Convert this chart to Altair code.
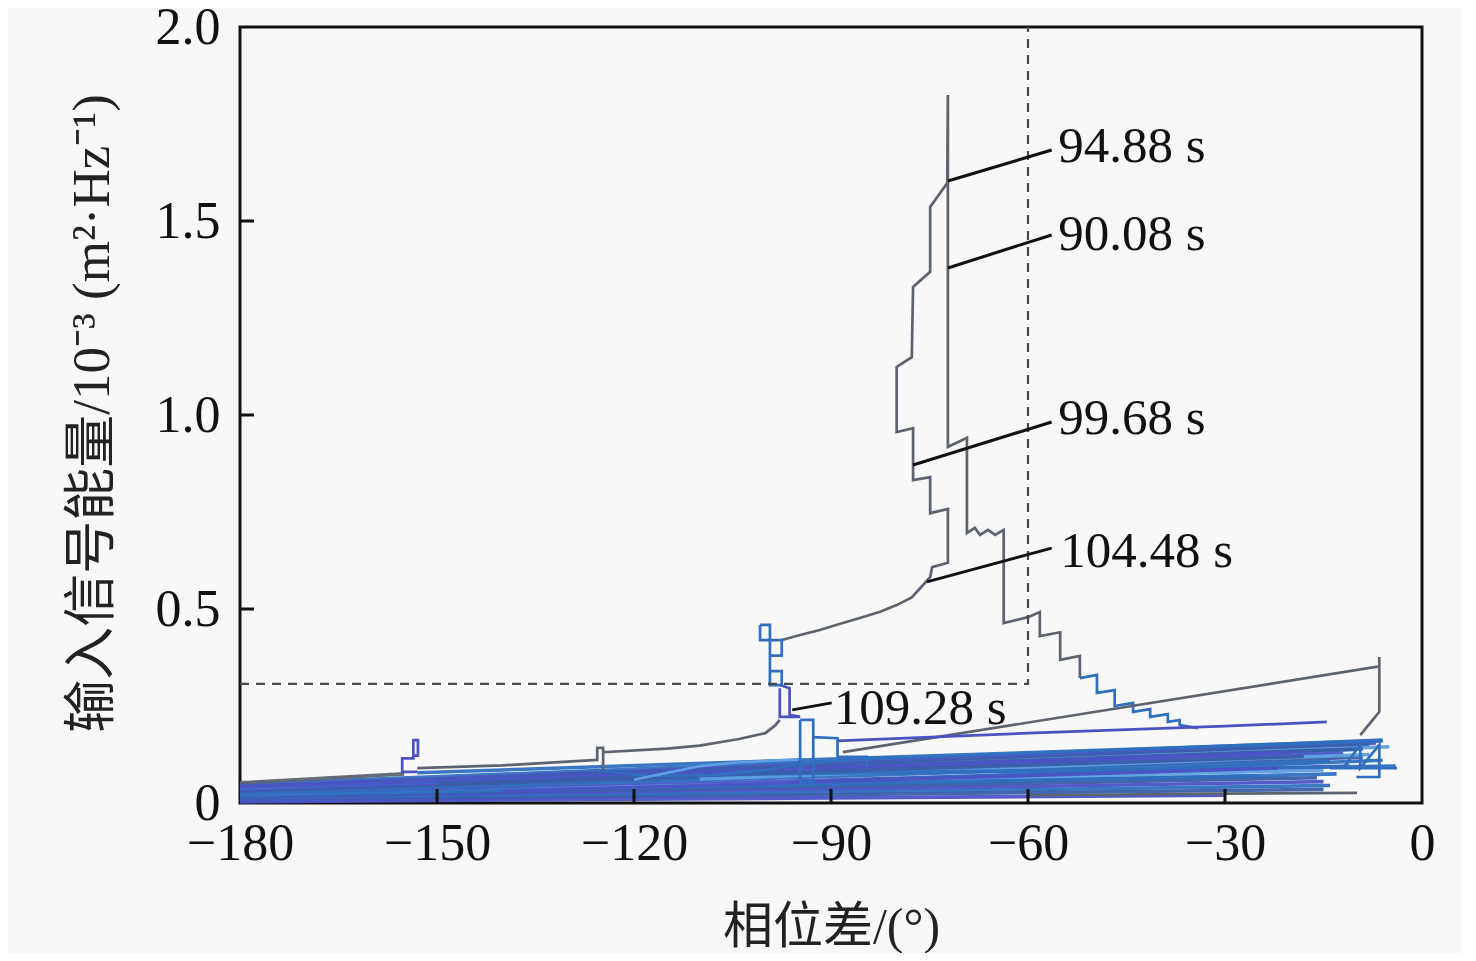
import altair as alt
import pandas as pd

GRAY = "#5d6371"
BLUE = "#2f6fbe"
PURPLE = "#4b53c4"
LIGHT = "#5d9fe2"
DARK = "#3a5ea8"
FONT = "Liberation Serif, Noto Sans CJK SC"

# ---- dense band of trajectories near the bottom (start/end points) ----
band_x0 = [-180, -180, -180, -180, -180, -180, -180, -180, -180, -180, -180,
           -180, -180, -180, -180, -180, -153, -125, -110, -96, -122, -180,
           -180, -180, -150, -140]
band_y0 = [0.048, 0.043, 0.039, 0.035, 0.031, 0.028, 0.025, 0.022, 0.019, 0.016,
           0.013, 0.011, 0.009, 0.007, 0.005, 0.003, 0.078, 0.072, 0.062, 0.052,
           0.070, 0.052, 0.040, 0.020, 0.050, 0.030]
band_x1 = [-6, -7, -8, -5, -10, -12, -9, -14, -11, -15, -13, -16, -15, -14, -15,
           -30, -6, -9, -8, -6, -4, -155, -20, -25, -18, -22]
band_y1 = [0.162, 0.155, 0.150, 0.145, 0.138, 0.128, 0.118, 0.108, 0.095, 0.085,
           0.075, 0.065, 0.055, 0.045, 0.035, 0.020, 0.160, 0.140, 0.125, 0.110,
           0.095, 0.075, 0.130, 0.070, 0.120, 0.090]
band_col = [BLUE, PURPLE, DARK, LIGHT, BLUE, PURPLE, DARK, BLUE, PURPLE, LIGHT,
            BLUE, DARK, PURPLE, BLUE, DARK, PURPLE, BLUE, DARK, LIGHT, BLUE,
            BLUE, GRAY, PURPLE, BLUE, DARK, PURPLE]

# ---- main stepped trajectory (grey) ----
main_x = [-97.5, -94.7, -91.7, -88.6, -85.6, -82.5, -80.0, -77.7, -75.7,
          -74.9, -74.6, -72.2, -72.2, -74.9, -74.9, -77.5, -77.5, -80.0, -80.0,
          -77.7, -77.5, -74.9, -74.9, -72.3, -72.2, -72.2, -70.7, -69.3, -69.3,
          -68.1, -67.3, -66.1, -65.0, -63.7, -63.7, -60.0, -58.2, -58.2, -55.1,
          -55.1, -52.1, -52.1]
main_y = [0.420, 0.433, 0.446, 0.462, 0.477, 0.493, 0.510, 0.530, 0.567,
          0.582, 0.608, 0.619, 0.758, 0.747, 0.840, 0.832, 0.966, 0.956, 1.124,
          1.149, 1.330, 1.369, 1.536, 1.598, 1.825, 0.918, 0.930, 0.941, 0.696,
          0.709, 0.691, 0.704, 0.691, 0.704, 0.464, 0.479, 0.492, 0.430, 0.440,
          0.369, 0.379, 0.322]

# tail of the descending staircase (blue)
tail_x = [-52.1, -49.5, -49.5, -46.8, -46.8, -44.0, -44.0, -41.4, -41.4, -38.7,
          -38.7, -36.9, -36.9, -34.1]
tail_y = [0.322, 0.330, 0.284, 0.291, 0.250, 0.258, 0.235, 0.242, 0.222, 0.229,
          0.209, 0.214, 0.201, 0.193]

# small structures near -100 deg
rect1_x = [-100.8, -99.3, -99.3, -100.8, -100.8]
rect1_y = [0.459, 0.459, 0.420, 0.420, 0.459]
ladder_x = [-99.3, -97.5, -97.5, -99.3, -99.3, -97.5, -97.5, -99.3, -99.3]
ladder_y = [0.420, 0.420, 0.380, 0.380, 0.340, 0.340, 0.304, 0.304, 0.420]
hook_x = [-97.8, -96.3, -96.3, -94.7, -97.8, -97.8]
hook_y = [0.304, 0.296, 0.227, 0.222, 0.222, 0.296]
rect2_x = [-94.7, -92.7, -92.7, -94.7, -94.7]
rect2_y = [0.214, 0.214, 0.054, 0.054, 0.214]
steps_x = [-92.7, -89.0, -89.0, -84.5, -84.5]
steps_y = [0.170, 0.167, 0.119, 0.119, 0.093]

# left rising trajectory towards 109.28 s
rise_x = [-153.0, -140.0, -125.6, -125.6, -124.7, -124.7, -124.7, -115.0, -110.0,
          -104.0, -100.0, -98.5, -97.8]
rise_y = [0.090, 0.097, 0.111, 0.142, 0.142, 0.085, 0.131, 0.140, 0.148,
          0.165, 0.180, 0.200, 0.214]
s154_x = [-153.0, -155.3, -155.3, -153.6, -153.6, -152.9, -152.9, -153.6]
s154_y = [0.080, 0.080, 0.115, 0.115, 0.162, 0.162, 0.122, 0.122]
lens1_x = [-126.0, -118.0, -108.0, -100.0, -95.0, -88.0, -80.0]
lens1_y = [0.085, 0.070, 0.072, 0.085, 0.100, 0.110, 0.118]
lens2_x = [-120.0, -110.0, -104.0, -95.0]
lens2_y = [0.060, 0.095, 0.105, 0.112]

# long lines on the right
long_x = [-88.2, -6.5, -6.5, -6.5, -9.4]
long_y = [0.131, 0.352, 0.376, 0.235, 0.175]
mid_x = [-89.0, -60.0, -30.0, -14.5]
mid_y = [0.160, 0.180, 0.198, 0.209]
zig_x = [-12.0, -9.4, -9.4, -6.5, -6.5, -10.0]
zig_y = [0.090, 0.150, 0.090, 0.150, 0.067, 0.067]
hor_x = [-14.0, -3.8]
hor_y = [0.090, 0.090]
low_x = [-60.0, -30.0, -9.9]
low_y = [0.020, 0.024, 0.026]

# dashed guide
dash_x = [-180, -60, -60]
dash_y = [0.307, 0.307, 2.0]

# annotations
label_text = ["94.88 s", "90.08 s", "99.68 s", "104.48 s", "109.28 s"]
label_x = [-55.4, -55.4, -55.4, -55.1, -89.6]
label_y = [1.691, 1.464, 0.990, 0.647, 0.242]
lead_x0 = [-72.2, -72.2, -77.5, -75.4, -95.9]
lead_y0 = [1.603, 1.379, 0.871, 0.570, 0.240]
lead_x1 = [-56.4, -56.4, -56.4, -56.4, -89.9]
lead_y1 = [1.683, 1.464, 0.982, 0.657, 0.258]

x_ticks = [-180, -150, -120, -90, -60, -30, 0]
y_ticks = [0, 0.5, 1.0, 1.5, 2.0]
x_inner = [-150, -120, -90, -60, -30]
y_inner = [0.5, 1.0, 1.5]

# ---------- build tables ----------
rows = []
for i in range(len(band_x0)):
    rows.append(dict(path=f"b{i}", ord=0, x=band_x0[i], y=band_y0[i], c=band_col[i]))
    rows.append(dict(path=f"b{i}", ord=1, x=band_x1[i], y=band_y1[i], c=band_col[i]))
band_df = pd.DataFrame(rows)

paths = [
    ("main", main_x, main_y, GRAY),
    ("tail", tail_x, tail_y, BLUE),
    ("rect1", rect1_x, rect1_y, BLUE),
    ("ladder", ladder_x, ladder_y, BLUE),
    ("hook", hook_x, hook_y, PURPLE),
    ("rect2", rect2_x, rect2_y, BLUE),
    ("steps", steps_x, steps_y, BLUE),
    ("rise", rise_x, rise_y, GRAY),
    ("s154", s154_x, s154_y, PURPLE),
    ("lens1", lens1_x, lens1_y, BLUE),
    ("lens2", lens2_x, lens2_y, LIGHT),
    ("long", long_x, long_y, GRAY),
    ("mid", mid_x, mid_y, PURPLE),
    ("zig", zig_x, zig_y, BLUE),
    ("hor", hor_x, hor_y, BLUE),
    ("low", low_x, low_y, GRAY),
]
rows = []
for name, xs_, ys_, col in paths:
    for k, (xv, yv) in enumerate(zip(xs_, ys_)):
        rows.append(dict(path=name, ord=k, x=xv, y=yv, c=col))
path_df = pd.DataFrame(rows)

dash_df = pd.DataFrame(dict(x=dash_x, y=dash_y, ord=range(len(dash_x))))
lab_df = pd.DataFrame(dict(t=label_text, x=label_x, y=label_y))
lead_df = pd.DataFrame(dict(x=lead_x0, y=lead_y0, x2=lead_x1, y2=lead_y1))
xt_df = pd.DataFrame(dict(x=x_inner))
yt_df = pd.DataFrame(dict(y=y_inner))

xs = alt.Scale(domain=[-180, 0], nice=False, zero=False)
ys = alt.Scale(domain=[0, 2.0], nice=False, zero=False)

x_axis = alt.Axis(values=x_ticks, title="相位差/(°)", grid=False, ticks=False,
                  tickSize=0, domain=False, labelFont=FONT, labelFontSize=52,
                  labelColor="#111", labelPadding=15, labelFlush=False,
                  labelExpr="datum.value == 0 ? '0' : datum.label",
                  titleFont=FONT, titleFontSize=50, titleFontWeight="normal",
                  titleColor="#222", titleY=124, titleBaseline="middle")
y_axis = alt.Axis(values=y_ticks, title="输入信号能量/10⁻³ (m²·Hz⁻¹)", grid=False,
                  ticks=False, tickSize=0, domain=False, labelFont=FONT,
                  labelFontSize=52, labelColor="#111", labelPadding=20,
                  labelFlush=False,
                  labelExpr="datum.value == 0 ? '0' : format(datum.value, '.1f')",
                  titleFont=FONT, titleFontSize=53, titleFontWeight="normal",
                  titleColor="#222", titleX=-148, titleY=386,
                  titleBaseline="middle", titleAlign="center")

X = alt.X("x:Q", scale=xs, axis=x_axis)
Y = alt.Y("y:Q", scale=ys, axis=y_axis)

band = alt.Chart(band_df).mark_line(strokeWidth=3.6, opacity=0.95).encode(
    x=X, y=Y, detail="path:N", order="ord:Q",
    color=alt.Color("c:N", scale=None),
)

lines = alt.Chart(path_df).mark_line(strokeWidth=2.7).encode(
    x=X, y=Y, detail="path:N", order="ord:Q",
    color=alt.Color("c:N", scale=None),
)

dashed = alt.Chart(dash_df).mark_line(strokeWidth=2.2, strokeDash=[9, 7],
                                      color="#4a4a4a").encode(
    x=X, y=Y, order="ord:Q",
)

leaders = alt.Chart(lead_df).mark_rule(strokeWidth=3, color="#111").encode(
    x=X, y=Y, x2="x2:Q", y2="y2:Q",
)

labels = alt.Chart(lab_df).mark_text(align="left", baseline="middle", font=FONT,
                                     fontSize=51, color="#111").encode(
    x=X, y=Y, text="t:N",
)

xticks = alt.Chart(xt_df).mark_rule(strokeWidth=3, color="#111").encode(
    x=X, y=alt.value(776), y2=alt.value(762),
)
yticks = alt.Chart(yt_df).mark_rule(strokeWidth=3, color="#111").encode(
    y=Y, x=alt.value(0), x2=alt.value(14),
)

chart = alt.layer(band, lines, dashed, leaders, labels, xticks, yticks).properties(
    width=1182, height=776,
    autosize=alt.AutoSizeParams(type="none"),
    padding={"left": 232, "top": 19, "right": 40, "bottom": 150},
    background="#f8f8f8",
).configure_view(stroke="#111", strokeWidth=3, fill="#f8f8f8")

chart.save("out.html", embed_options={"renderer": "svg", "actions": False})
